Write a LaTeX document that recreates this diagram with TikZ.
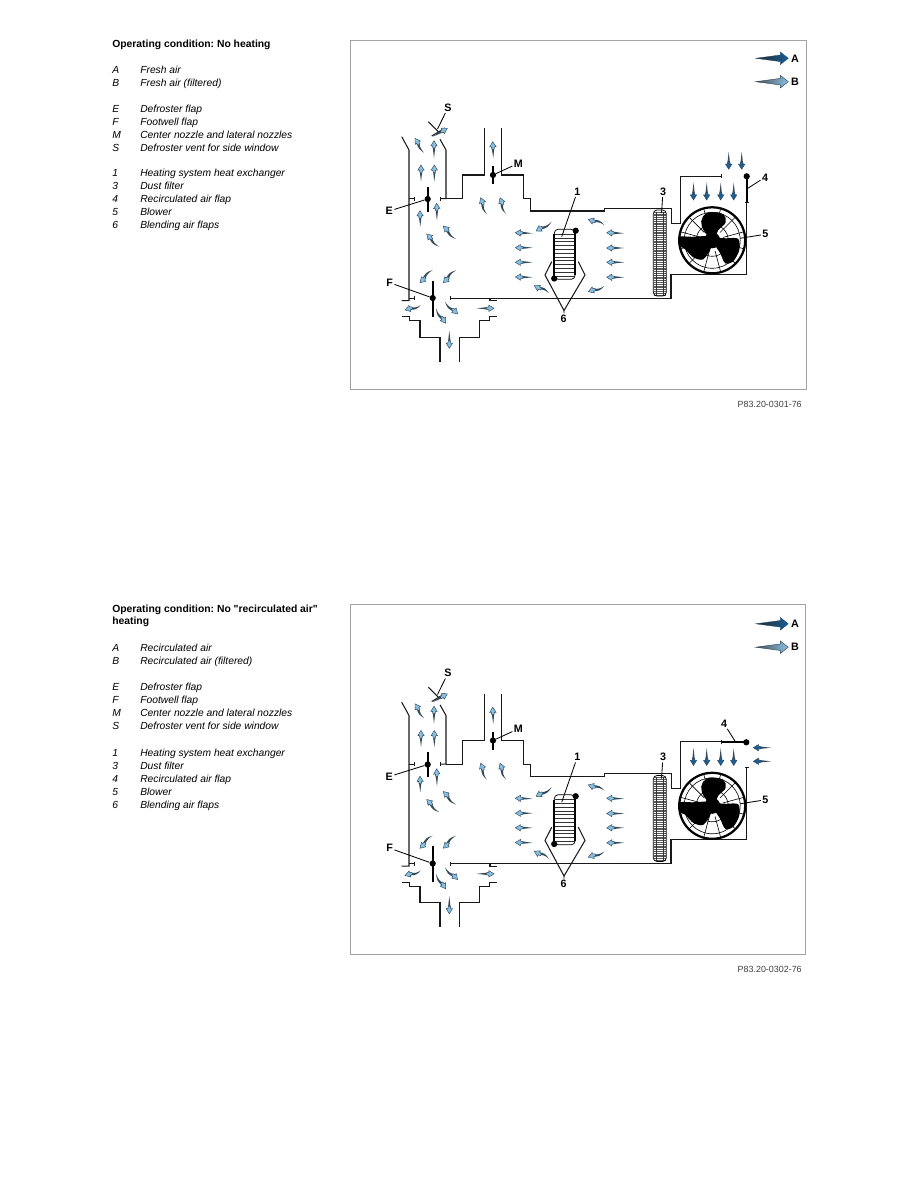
\documentclass[tikz,border=0pt]{standalone}
\usepackage{fontspec}
\setmainfont{Liberation Sans}
\newfontfamily\titlefont{Liberation Sans}
\usepackage{tikz}
\usetikzlibrary{arrows.meta}

\definecolor{flowdark}{HTML}{1A5F96}
\definecolor{flowpale}{HTML}{86C0E4}
\definecolor{flowedge}{HTML}{34495A}
\definecolor{framegray}{HTML}{A2A2A2}

\tikzset{
  duct/.style={line width=0.7pt,line join=miter,black!90},
  endtick/.style={-{Bar[width=2.6pt]}},
  flapbar/.style={line width=1.15pt},
  flapdot/.style={circle,fill=black,inner sep=0pt,minimum size=4.2pt},
  leader/.style={line width=0.55pt},
  partlabel/.style={font=\fontsize{7.2}{8}\selectfont\bfseries,inner sep=0.8pt},
  legendtext/.style={font=\fontsize{6.88}{8}\selectfont\itshape,anchor=base west,inner sep=0pt},
  legendhead/.style={font=\titlefont\fontsize{6.93}{8}\selectfont\bfseries\frenchspacing,anchor=base west,inner sep=0pt},
  photoid/.style={font=\fontsize{5.97}{7}\selectfont,text=black!75,anchor=base east,inner sep=0pt},
  fanline/.style={line width=0.4pt}
}

% Air arrow: colour, bend, tail point, tip point
\def\airflow#1#2(#3,#4)(#5,#6){%
  \pgfmathsetmacro\flowlen{veclen(#5-#3,#6-#4)}%
  \pgfmathsetmacro\flowang{atan2(#4-#6,#5-#3)}%
  \begin{scope}[shift={(#5,#6)},rotate=\flowang]
    \fill[flowedge] (-\flowlen,0) .. controls ({-0.65*\flowlen},#2+0.9) .. (-5,1.4) -- (-5,-1.4)
      .. controls ({-0.65*\flowlen},#2-0.9) .. cycle;
    \filldraw[fill=#1,draw=flowedge,line width=0.3pt]
      (0,0) -- (-5.2,3.2) -- (-5.2,1.5) -- (-7.5,1) -- (-7.5,-1) -- (-5.2,-1.5) -- (-5.2,-3.2) -- cycle;
  \end{scope}}

% Everything the two operating conditions have in common
\newcommand{\hvacunit}{%
  % Ducts
  \draw[duct] (401.7,136.7) -- (409,150) -- (409,300.7) -- (401.7,300.7);
  \draw[duct,endtick] (409,198.7) -- (415,198.7);
  \draw[duct,endtick] (409,298.3) -- (415,298.3);
  \draw[duct] (401.7,316.7) -- (409.3,316.7) -- (409.3,320.7) -- (420,320.7) -- (420,337.3)
    -- (440,337.3) -- (440,361.7);
  \draw[duct] (459.3,361.7) -- (459.3,337.3) -- (479.3,337.3) -- (479.3,320.7) -- (489.3,320.7)
    -- (489.3,316.7) -- (496.7,316.7);
  \draw[duct] (490,298.3) -- (490,300.7) -- (496.7,300.7);
  \draw[duct,{Bar[width=2.6pt]}-{Bar[width=2.6pt]}] (450,298.3) -- (671,298.3) -- (671,274.3) -- (746.7,274.3) -- (746.7,201.5);
  \draw[duct,{Bar[width=2.6pt]}-] (440,198.7) -- (446,198.7) -- (446,150) -- (440,139.3);
  \draw[duct] (446,198.7) -- (462.3,198.7) -- (462.3,175) -- (484.3,175) -- (484.3,128.3);
  \draw[duct,endtick] (501.7,128.3) -- (501.7,175) -- (523.7,175) -- (523.7,198.7) -- (530.3,198.7)
    -- (530.3,211) -- (604.3,211) -- (604.3,208.3) -- (671.7,208.3) -- (671.7,223.3)
    -- (680.7,223.3) -- (680.7,176.3) -- (722,176.3);

  % Side window vent
  \draw[duct] (428.3,121.7) -- (438.3,131.7);
  \draw[duct] (431.7,136) -- (445,128);

  % Flaps E, M, F
  \draw[flapbar] (427.7,186.7) -- (427.7,211.7);
  \draw[flapbar] (493,166) -- (493,184);
  \draw[flapbar] (432.7,280.7) -- (432.7,316.7);
  \node[flapdot] (flapE) at (427.7,199) {};
  \node[flapdot] (flapM) at (493,175) {};
  \node[flapdot] (flapF) at (432.7,298) {};

  % Heat exchanger
  \foreach \y in {234,237.8,...,278}
    \draw[line width=0.35pt,black!80] (555,\y) -- (575,\y);
  \draw[line width=0.5pt,rounded corners=2.5pt] (554.3,240) -- (554.3,229.3) -- (575,229.3)
    -- (575,279.3) -- (554.3,279.3) -- (554.3,270);
  \draw[flapbar] (554.3,278.3) -- (554.3,234);
  \draw[flapbar] (575.3,230.7) -- (575.3,275);
  \node[flapdot] (dotlow) at (554.2,278.5) {};
  \node[flapdot] (dothigh) at (575.7,230.7) {};

  % Blending air flaps
  \coordinate (apex) at (564,310.5);
  \draw[duct] (551.7,261.7) -- (545,275) -- (apex) -- (585,275) -- (578.3,261.7);

  % Dust filter
  \foreach \y in {212,213.8,...,295}
    \draw[line width=0.3pt,black!65] (654,\y) -- (665.6,\y);
  \draw[line width=0.4pt,black!80] (656,211.5) -- (656,295);
  \draw[line width=0.4pt,black!80] (663.6,211.5) -- (663.6,295);
  \draw[line width=0.5pt,rounded corners=2.5pt] (653.3,210) rectangle (666.3,296);

  % Blower
  \coordinate (fan) at (712.2,240.3);
  \foreach \a in {15,45,...,345}
    \draw[fanline] (fan) ++(\a:11) -- ++(\a:21);
  \draw[fanline] (fan) circle (28);
  \draw[fanline] (fan) circle (16);
  \begin{scope}[shift={(fan)}]
    \clip (0,0) circle (32.5);
    \fill plot[smooth cycle,tension=0.7] coordinates {(-1,-2) (-8,-9) (-11,-19) (-6,-27) (3,-28)
      (11,-26) (13.5,-18) (6,-10) (3,-2)};
    \fill plot[smooth cycle,tension=0.5] coordinates {(-35,-3.5) (-20,-3.5) (-4,-3.5) (-1,7) (-9,19)
      (-19,17) (-27,9) (-35,4)};
    \fill plot[smooth cycle,tension=0.5] coordinates {(2,-2) (14,-2) (26,-1.5) (27,10) (21,21)
      (13,23) (8,13) (3,5)};
  \end{scope}
  \fill (fan) circle (8);
  \draw[line width=1.5pt] (fan) circle (33);

  % Air in the defroster branch
  \airflow{flowpale}{0}(432.7,136.7)(447.3,128.3)
  \airflow{flowpale}{-1.5}(424,152.7)(415,138.3)
  \airflow{flowpale}{0}(434,158.3)(434,140.7)
  \airflow{flowpale}{0}(421,181.7)(421,165)
  \airflow{flowpale}{0}(434.3,181.7)(434.3,165)
  \airflow{flowpale}{0}(420.3,226.7)(420,210.7)
  \airflow{flowpale}{0}(437,220.7)(436.7,203.3)
  \airflow{flowpale}{-2}(439.3,246.7)(426.7,234)
  \airflow{flowpale}{-2}(456,239)(443.3,226)

  % Air in the footwell branch
  \airflow{flowpale}{2}(432.7,270)(420,282.7)
  \airflow{flowpale}{2}(456,270.3)(443.3,282.7)
  \airflow{flowpale}{-2}(421,305)(405,310)
  \airflow{flowpale}{2}(445,301.7)(457.7,314)
  \airflow{flowpale}{2}(436,308.3)(445.7,323.3)
  \airflow{flowpale}{0}(476.7,308.3)(494,308.3)
  \airflow{flowpale}{0}(449.3,330.7)(449.3,348.3)

  % Air to the center nozzle
  \airflow{flowpale}{-2}(486.7,214)(480.7,197.7)
  \airflow{flowpale}{-2}(506,214)(500,197.7)
  \airflow{flowpale}{0}(493.3,158.3)(492.7,141.7)

  % Air past the heat exchanger
  \airflow{flowpale}{-2}(551.7,221.7)(536,231)
  \airflow{flowpale}{0}(532.7,233.3)(515.3,232.7)
  \airflow{flowpale}{0}(532.7,247.7)(515.3,247.7)
  \airflow{flowpale}{0}(532.7,262.3)(515.3,262.3)
  \airflow{flowpale}{0}(532.7,277.3)(515.3,277)
  \airflow{flowpale}{2}(549,293.3)(534.3,285.7)
  \airflow{flowpale}{2}(604.3,225)(588.3,219.3)
  \airflow{flowpale}{0}(624.3,233.3)(606.7,232.7)
  \airflow{flowpale}{0}(624.3,248)(606.7,248)
  \airflow{flowpale}{0}(624.3,262.3)(606.7,262.3)
  \airflow{flowpale}{0}(624.3,277.3)(606.7,277.3)
  \airflow{flowpale}{-2}(604.3,286)(588.3,291.7)

  % Air into the blower
  \foreach \x in {693.5,706.7,720.7,733.7}
    {\airflow{flowdark}{0}(\x,182.5)(\x,200)}

  % Key arrows
  \shade[left color=black!85,middle color=flowdark!90!black,right color=flowdark,draw=flowdark!70!black,line width=0.2pt]
    (755.7,58.3) -- (780.3,55) -- (780.3,52) -- (788.3,58.3) -- (780.3,64.6) -- (780.3,61.6) -- cycle;
  \shade[left color=black!70,middle color=flowpale,right color=flowpale,draw=flowedge,line width=0.3pt]
    (755.7,81.7) -- (780.3,78.4) -- (780.3,75.4) -- (788.3,81.7) -- (780.3,88) -- (780.3,85) -- cycle;
  \node[partlabel] (keyA) at (795,58.3) {A};
  \node[partlabel] (keyB) at (795,81.7) {B};

  % Labels
  \node[partlabel] (labelS) at (448,107.7) {S};
  \node[partlabel] (labelM) at (518.3,163.3) {M};
  \node[partlabel] (labelE) at (389.3,211) {E};
  \node[partlabel] (labelF) at (389.7,282.7) {F};
  \node[partlabel] (labelone) at (577.3,191.7) {1};
  \node[partlabel] (labelthree) at (663,191.7) {3};
  \node[partlabel] (labelfive) at (765.3,234.3) {5};
  \node[partlabel] (labelsix) at (563.7,318.3) {6};
  \coordinate (ventS) at (437.5,129);
  \coordinate (tubeone) at (561.7,236.7);
  \coordinate (filterthree) at (661.5,213);
  \coordinate (fanfive) at (740,238.3);
  \draw[leader] (labelS) -- (ventS);
  \draw[leader] (labelM) -- (flapM);
  \draw[leader] (labelE) -- (flapE);
  \draw[leader] (labelF) -- (flapF);
  \draw[leader] (labelone) -- (tubeone);
  \draw[leader] (labelthree) -- (filterthree);
  \draw[leader] (labelfive) -- (fanfive);
  \draw[leader] (labelsix) -- (apex);
}

\begin{document}
\begin{tikzpicture}[x=0.669pt,y=-0.669pt]
  \useasboundingbox (0,0) rectangle (918,1188);

  % Top: no heating
  \draw[framegray,line width=0.6pt] (350.5,40) rectangle (806.5,389);
  \begin{scope}[name prefix=top-]
    \hvacunit
    \draw[flapbar] (746.7,176.3) -- (746.7,201.5);
    \node[flapdot] (flapfour) at (746.7,176.3) {};
    \node[partlabel] (labelfour) at (765,177.3) {4};
    \coordinate (barfour) at (747.3,188.6);
    \draw[leader] (labelfour) -- (barfour);
    \foreach \x in {728.7,741.7}
      {\airflow{flowdark}{0}(\x,151.7)(\x,169.3)}
  \end{scope}
  \node[photoid] (idtop) at (802,407.3) {P83.20-0301-76};

  \node[legendhead] (titletop) at (112,47.5) {Operating condition: No heating};
  \foreach \y/\k/\t in {73.5/A/Fresh air,86.5/B/Fresh air (filtered),
      112/E/Defroster flap,125/F/Footwell flap,138/M/Center nozzle and lateral nozzles,
      151.5/S/Defroster vent for side window,
      176.5/1/Heating system heat exchanger,189.5/3/Dust filter,202.5/4/Recirculated air flap,
      215.5/5/Blower,228.5/6/Blending air flaps}{
    \node[legendtext] (topkey\k) at (112,\y) {\k};
    \node[legendtext] (topname\k) at (140,\y) {\t};
  }

  % Bottom: no recirculated air heating
  \draw[framegray,line width=0.6pt] (350.5,604) rectangle (805.5,954);
  \begin{scope}[shift={(0,565.5)},name prefix=low-]
    \hvacunit
    \draw[flapbar] (721.7,176.8) -- (746.3,176.8);
    \node[flapdot] (flapfour) at (746.3,176.8) {};
    \node[partlabel] (labelfour) at (724,158.2) {4};
    \coordinate (barfour) at (735,175.5);
    \draw[leader] (labelfour) -- (barfour);
    \foreach \y in {182.2,195.8}
      {\airflow{flowdark}{0}(771,\y)(753.3,\y)}
  \end{scope}
  \node[photoid] (idlow) at (802,972.5) {P83.20-0302-76};

  \node[legendhead] (titlelow) at (112,612.5) {Operating condition: No "recirculated air"};
  \node[legendhead] (titlemore) at (112,624.5) {heating};
  \foreach \y/\k/\t in {651/A/Recirculated air,664/B/Recirculated air (filtered),
      690/E/Defroster flap,703/F/Footwell flap,716/M/Center nozzle and lateral nozzles,
      729/S/Defroster vent for side window,
      756/1/Heating system heat exchanger,769/3/Dust filter,782/4/Recirculated air flap,
      795/5/Blower,808/6/Blending air flaps}{
    \node[legendtext] (lowkey\k) at (112,\y) {\k};
    \node[legendtext] (lowname\k) at (140,\y) {\t};
  }
\end{tikzpicture}
\end{document}
